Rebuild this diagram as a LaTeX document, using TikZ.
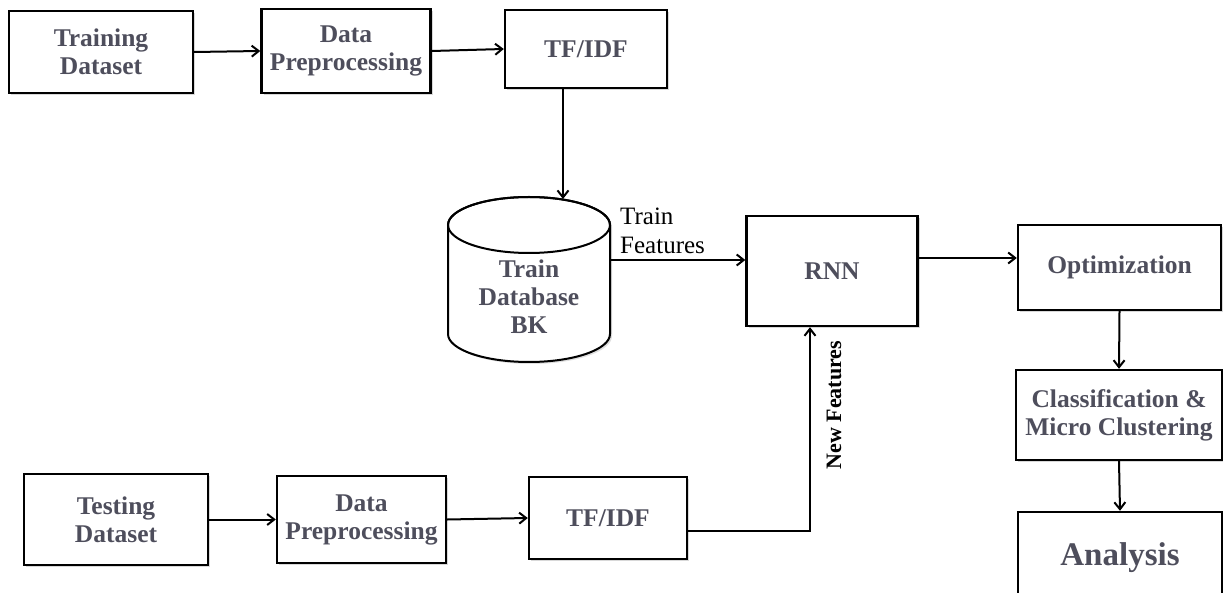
\documentclass[tikz,border=0pt]{standalone}
\usepackage{fontspec}
\setmainfont{Liberation Serif}
\usetikzlibrary{arrows.meta,shadows}
\definecolor{boxtext}{RGB}{78,78,92}

\begin{document}
\begin{tikzpicture}[x=1pt,y=-1pt,
 boxtxt/.style={align=center, inner sep=0pt, text=boxtext, font=\fontsize{25.5}{28}\selectfont\bfseries},
 box/.style={boxtxt, draw, line width=2.4pt, fill=white,
  drop shadow={shadow xshift=2pt,shadow yshift=-2pt,fill=black!30}},
 arr/.style={-{Straight Barb[length=7pt,width=11pt]}, line width=2pt},
 lbl/.style={align=left, inner sep=0pt, font=\fontsize{25}{29}\selectfont}]
\useasboundingbox (0,0) rectangle (1223,593);

% training branch
\node[box, minimum width=184pt, minimum height=82pt] (trainset) at (101,52) {Training\\Dataset};
\node[box, minimum width=169pt, minimum height=84pt] (trainprep) at (346,51) {Data\\Preprocessing};
\node[box, minimum width=162pt, minimum height=78pt] (traintfidf) at (586,49) {TF/IDF};

% database cylinder
\draw[line width=2pt, fill=white, drop shadow={shadow xshift=2pt,shadow yshift=-2pt,fill=black!25}]
 (448,225) -- (448,334) arc (180:360:81pt and 28pt) -- (610,225) arc (0:180:81pt and 28pt) -- cycle;
\draw[line width=2pt] (529,225) ellipse (81pt and 28pt);
\node[boxtxt, minimum width=162pt] (db) at (529,297) {Train\\Database\\BK};

\node[box, minimum width=171pt, minimum height=110pt] (rnn) at (832,271) {RNN};
\node[box, minimum width=203pt, minimum height=85pt] (opt) at (1119.5,267.5) {Optimization};
\node[box, minimum width=206pt, minimum height=90pt] (class) at (1119,415) {Classification \&\\Micro Clustering};
\node[box, minimum width=204pt, minimum height=92pt, font=\fontsize{33}{36}\selectfont\bfseries] (analysis) at (1120,558) {Analysis};

% testing branch
\node[box, minimum width=184pt, minimum height=91pt] (testset) at (116,519.5) {Testing\\Dataset};
\node[box, minimum width=169pt, minimum height=87pt] (testprep) at (361.5,519.5) {Data\\Preprocessing};
\node[box, minimum width=158pt, minimum height=82pt] (testtfidf) at (608,518) {TF/IDF};

% labels
\node[lbl, anchor=south west] (trainfeat) at (620,254) {Train\\Features};
\node[lbl, font=\fontsize{22}{26}\selectfont\bfseries, rotate=90] (newfeat) at (834,405) {New Features};

% connectors
\draw[arr] (trainset.east) -- (trainprep.west);
\draw[arr] (trainprep.east) -- (traintfidf.west);
\draw[arr] ([xshift=-23pt]traintfidf.south) -- (563,199);
\coordinate (rnnin) at ([yshift=11pt]rnn.west);
\draw[arr] (db.east |- rnnin) -- (rnnin);
\draw[arr] ([yshift=13pt]rnn.east) -- ([yshift=13pt]rnn.east -| opt.west);
\draw[arr] (opt.south) -- (class.north);
\draw[arr] (class.south) -- (analysis.north);
\draw[arr] (testset.east) -- (testprep.west);
\draw[arr] (testprep.east) -- (testtfidf.west);
\draw[arr] ([yshift=-13pt]testtfidf.east) -| ([xshift=-22pt]rnn.south);
\end{tikzpicture}
\end{document}
